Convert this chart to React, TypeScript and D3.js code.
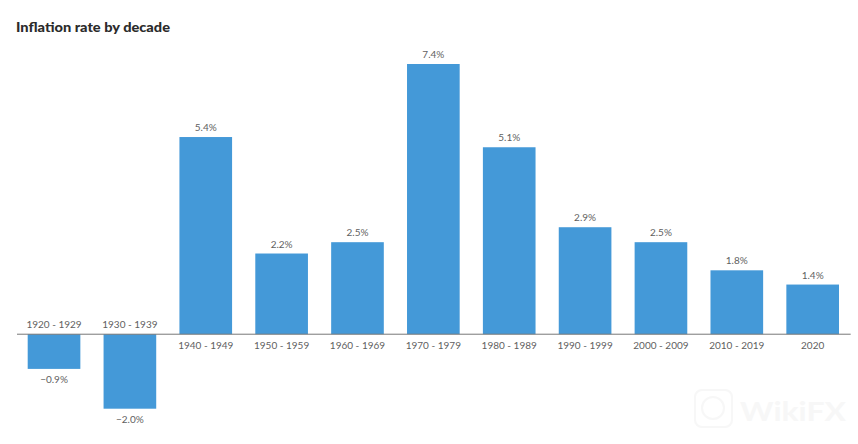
import React from 'react';
import * as d3 from 'd3';

const title = 'Inflation rate by decade';
const decades = ['1920 - 1929', '1930 - 1939', '1940 - 1949', '1950 - 1959', '1960 - 1969', '1970 - 1979', '1980 - 1989', '1990 - 1999', '2000 - 2009', '2010 - 2019', '2020'];
const rateLabels = ['\u22120.9%', '\u22122.0%', '5.4%', '2.2%', '2.5%', '7.4%', '5.1%', '2.9%', '2.5%', '1.8%', '1.4%'];
const barValues = [-0.95, -2.04, 5.4, 2.21, 2.52, 7.4, 5.12, 2.93, 2.52, 1.75, 1.36];

const W = 858;
const H = 444;
const font = 'Lato, "Open Sans", sans-serif';

const x = d3.scaleBand<string>().domain(decades).range([17, 849.7]).paddingInner(0.306).paddingOuter(0.141);
const y = d3.scaleLinear().domain([-2.04, 7.4]).range([408.7, 64]);

export default function App() {
  const zero = y(0);
  return (
    <svg width={W} height={H} viewBox={`0 0 ${W} ${H}`} style={{ position: 'absolute', left: 0, top: 0, background: '#fff' }}>
      <text x={16} y={32} fontFamily={font} fontSize={14} fontWeight={900} fill="#2b2b2b" textLength={154} lengthAdjust="spacingAndGlyphs">{title}</text>

      {barValues.map((v, i) => {
        const bx = x(decades[i])!;
        const bw = x.bandwidth();
        const cx = bx + bw / 2;
        const top = Math.min(y(v), zero);
        const h = Math.abs(y(v) - zero);
        return (
          <g key={decades[i]}>
            <rect x={bx} y={top} width={bw} height={h} fill="#4499d8" />
            <text x={cx} y={v < 0 ? y(v) + 14.5 : y(v) - 6} textAnchor="middle" fontFamily={font} fontSize={10} fill="#5f5f5f">{rateLabels[i]}</text>
            <text x={cx} y={v < 0 ? zero - 6 : zero + 14.5} textAnchor="middle" fontFamily={font} fontSize={10} fill="#5f5f5f">{decades[i]}</text>
          </g>
        );
      })}

      <line x1={17} x2={850.7} y1={zero} y2={zero} stroke="#777" strokeWidth={1} />

      {/* faint watermark, bottom right */}
      <g opacity={0.5}>
        <rect x={695} y={390} width={37} height={37} rx={7} fill="none" stroke="#f0f0f0" strokeWidth={2} />
        <circle cx={713} cy={408} r={11} fill="none" stroke="#f0f0f0" strokeWidth={2} />
        <text x={740} y={421} fontFamily={font} fontSize={27} fontWeight={700} fill="#f0f0f0" textLength={106} lengthAdjust="spacingAndGlyphs">WikiFX</text>
      </g>
    </svg>
  );
}
